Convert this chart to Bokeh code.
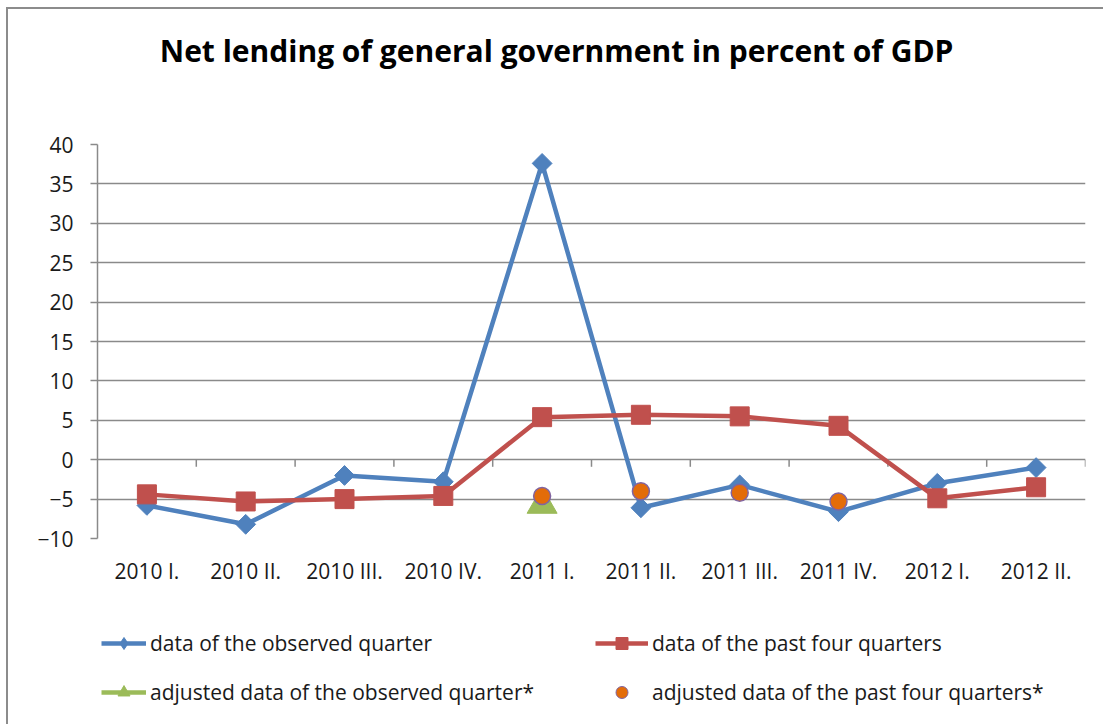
import math
from bokeh.plotting import figure
from bokeh.layouts import column
from bokeh.models import Range1d, FixedTicker, Legend, LegendItem, Label
from bokeh.embed import file_html
from bokeh.resources import INLINE

# ---- data ----
quarters = ["2010 I.", "2010 II.", "2010 III.", "2010 IV.", "2011 I.",
            "2011 II.", "2011 III.", "2011 IV.", "2012 I.", "2012 II."]
observed = [-5.8, -8.2, -2.0, -2.8, 37.6, -6.1, -3.2, -6.6, -3.0, -1.0]
past_four = [-4.4, -5.3, -5.0, -4.6, 5.4, 5.7, 5.5, 4.3, -4.9, -3.5]
adj_observed_quarters = ["2011 I."]
adj_observed = [-5.7]
adj_past_quarters = ["2011 I.", "2011 II.", "2011 III.", "2011 IV."]
adj_past = [-4.6, -4.0, -4.2, -5.3]
y_ticks = [-10, -5, 0, 5, 10, 15, 20, 25, 30, 35, 40]

title_text = "Net lending of general government  in percent of GDP"
labels = ["data of the observed quarter", "data of the past four quarters",
          "adjusted data of the observed quarter*",
          "adjusted data of the past four quarters*"]

FONT = "Open Sans"
BLUE = "#4F81BD"
RED = "#C0504D"
GREEN = "#9BBB59"
ORANGE = "#E36C09"
PURPLE = "#8064A2"
GRID = "#8A8A8A"
TXT = "#1A1A1A"
W = 1103
H_TOP, H_MAIN, H_LEG = 130, 470, 124
LEFT, RIGHT = 97, 18
NAN = float("nan")


def pos(qs):
    return [quarters.index(q) + 1 for q in qs]


def blank_fig(h):
    f = figure(width=W, height=h, output_backend="svg", toolbar_location=None,
               x_axis_type=None, y_axis_type=None,
               x_range=Range1d(LEFT, W - RIGHT), y_range=Range1d(h, 0),
               min_border_left=LEFT, min_border_right=RIGHT,
               min_border_top=0, min_border_bottom=0)
    f.outline_line_color = None
    f.background_fill_color = None
    f.border_fill_color = None
    f.grid.grid_line_color = None
    return f


xs = list(range(1, len(quarters) + 1))

# ---- title figure ----
t = blank_fig(H_TOP)
t.add_layout(Label(x=560, y=50, text=title_text, text_font=FONT,
                   text_font_size="30px", text_font_style="bold",
                   text_align="center", text_baseline="middle",
                   text_color="#000000"))

# ---- main figure ----
p = figure(width=W, height=H_MAIN, output_backend="svg", toolbar_location=None,
           x_range=Range1d(0.5, len(quarters) + 0.5),
           y_range=Range1d(min(y_ticks), max(y_ticks)),
           min_border_left=LEFT, min_border_right=RIGHT, min_border_top=14,
           min_border_bottom=62)
p.outline_line_color = None
p.background_fill_color = "white"
p.border_fill_color = None

p.yaxis.ticker = FixedTicker(ticks=y_ticks)
p.yaxis.axis_line_color = GRID
p.yaxis.axis_line_width = 1.5
p.yaxis.major_tick_line_color = GRID
p.yaxis.major_tick_line_width = 1.5
p.yaxis.major_tick_out = 7
p.yaxis.major_tick_in = 0
p.yaxis.minor_tick_line_color = None
p.yaxis.major_label_standoff = 17
p.yaxis.major_label_text_font = FONT
p.yaxis.major_label_text_font_size = "21px"
p.yaxis.major_label_text_color = TXT

p.xaxis.ticker = FixedTicker(ticks=xs)
p.xaxis.major_label_overrides = {i: q for i, q in zip(xs, quarters)}
p.xaxis.axis_line_color = None
p.xaxis.major_tick_line_color = None
p.xaxis.major_tick_out = 0
p.xaxis.major_tick_in = 0
p.xaxis.minor_tick_line_color = None
p.xaxis.minor_tick_out = 0
p.xaxis.major_label_standoff = 18
p.xaxis.major_label_text_font = FONT
p.xaxis.major_label_text_font_size = "21px"
p.xaxis.major_label_text_color = TXT

p.xgrid.grid_line_color = None
p.ygrid.ticker = FixedTicker(ticks=y_ticks)
p.ygrid.grid_line_color = GRID
p.ygrid.grid_line_width = 1.5

# category boundary tick marks on the zero line
bounds = [i + 0.5 for i in xs]
p.segment(x0=bounds, y0=[0] * len(bounds), x1=bounds, y1=[-0.9] * len(bounds),
          line_color=GRID, line_width=1.5)

# series
p.line(xs, observed, line_color=BLUE, line_width=4.5)
p.scatter(xs, observed, marker="square", angle=math.pi / 4, size=14,
          fill_color=BLUE, line_color=BLUE)
p.line(xs, past_four, line_color=RED, line_width=4.5)
p.scatter(xs, past_four, marker="square", size=19, fill_color=RED, line_color=RED)
p.scatter(pos(adj_observed_quarters), adj_observed, marker="triangle", size=30,
          fill_color=GREEN, line_color=GREEN)
p.scatter(pos(adj_past_quarters), adj_past, marker="circle", size=17,
          fill_color=ORANGE, line_color=PURPLE, line_width=1.5)

# ---- legend figure (proxy renderers with NaN data draw nothing) ----
lf = blank_fig(H_LEG)
lb_line = lf.line(x=[NAN], y=[NAN], line_color=BLUE, line_width=4.5)
lb_mark = lf.scatter(x=[NAN], y=[NAN], marker="diamond", size=20,
                     fill_color=BLUE, line_color=BLUE)
lr_line = lf.line(x=[NAN], y=[NAN], line_color=RED, line_width=4.5)
lr_mark = lf.scatter(x=[NAN], y=[NAN], marker="square", size=17,
                     fill_color=RED, line_color=RED)
lg_line = lf.line(x=[NAN], y=[NAN], line_color=GREEN, line_width=4.5)
lg_mark = lf.scatter(x=[NAN], y=[NAN], marker="triangle", size=20,
                     fill_color=GREEN, line_color=GREEN)
lo_mark = lf.scatter(x=[NAN], y=[NAN], marker="circle", size=14,
                     fill_color=ORANGE, line_color=PURPLE, line_width=1)


def make_legend(items, x, y, gw):
    lg = Legend(items=items, location=(x, y), orientation="vertical")
    lg.background_fill_alpha = 0
    lg.border_line_color = None
    lg.padding = 0
    lg.margin = 0
    lg.spacing = 19
    lg.glyph_width = gw
    lg.glyph_height = 30
    lg.label_height = 30
    lg.label_standoff = 4
    lg.label_text_font = FONT
    lg.label_text_font_size = "21px"
    lg.label_text_color = TXT
    return lg


lf.add_layout(make_legend([LegendItem(label=labels[0], renderers=[lb_line, lb_mark]),
                           LegendItem(label=labels[2], renderers=[lg_line, lg_mark])],
                          4, 17, 45))
lf.add_layout(make_legend([LegendItem(label=labels[1], renderers=[lr_line, lr_mark]),
                           LegendItem(label=labels[3], renderers=[lo_mark])],
                          498, 17, 53))

page = column(t, p, lf, spacing=0)
page.styles = {
    "background": "linear-gradient(#8C8C8C,#8C8C8C) 6px 7px / 2px 100% no-repeat, "
                  "linear-gradient(#8C8C8C,#8C8C8C) 6px 7px / 100% 2px no-repeat, white"
}

open("out.html", "w").write(file_html(page, INLINE))
